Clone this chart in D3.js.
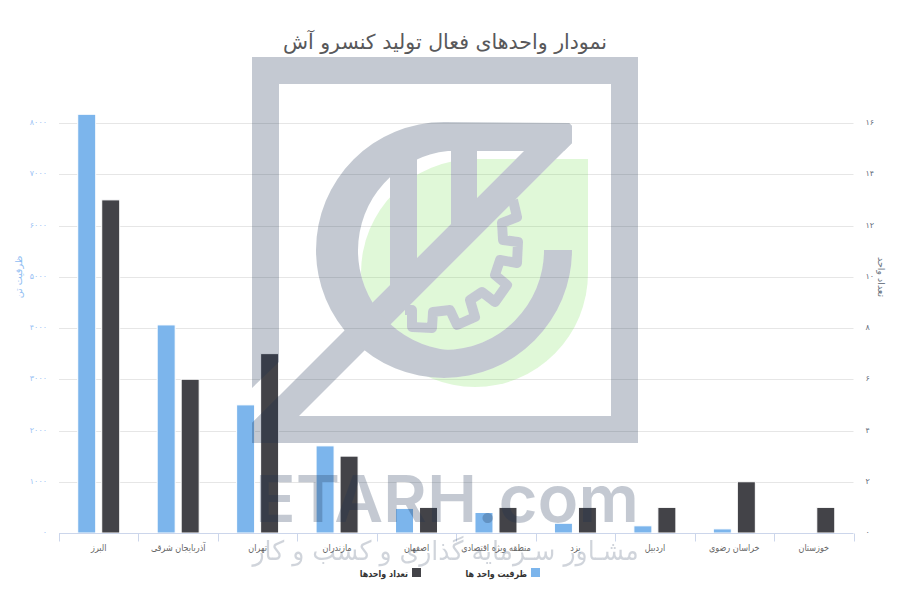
<!DOCTYPE html>
<html lang="fa">
<head>
<meta charset="utf-8">
<script src="https://cdn.jsdelivr.net/npm/d3@7/dist/d3.min.js"></script>
<style>
html,body{margin:0;padding:0;background:#fff}
svg{display:block}
text{font-family:"DejaVu Sans","Noto Sans",sans-serif}
</style>
</head>
<body>
<svg id="c" width="900" height="600" viewBox="0 0 900 600"></svg>
<script>
const titleText = "نمودار واحدهای فعال تولید کنسرو آش";
const categories = ["البرز","آذربایجان شرقی","تهران","مازندران","اصفهان","منطقه ویژه اقتصادی","یزد","اردبیل","خراسان رضوی","خوزستان"];
const capacity = [8170,4060,2500,1700,480,400,190,140,80,0];
const units = [13,6,7,3,1,1,1,1,2,1];
const capacityName = "ظرفیت واحد ها";
const unitsName = "تعداد واحدها";
const leftTitle = "ظرفیت تن";
const rightTitle = "تعداد واحد";
const leftTicks = [0,1000,2000,3000,4000,5000,6000,7000,8000];
const rightTicks = [0,2,4,6,8,10,12,14,16];
const brandText = "ETARH.com";
const sloganText = "مشـاور سـرمایه گذاری و کسب و کار";

const fa = n => String(n).replace(/\d/g, d => "۰۱۲۳۴۵۶۷۸۹"[d]);
const svg = d3.select("#c");
const L = 59, R = 853.5, T = 123, B = 533;

const x = d3.scaleBand().domain(categories).range([L, R]);
const pairW = 48, pad = (x.bandwidth() - pairW) / 2;
const x1 = d3.scaleBand().domain(["capacity","units"]).range([pad, pad + pairW]).paddingInner(0.25).paddingOuter(0.125);
const yL = d3.scaleLinear().domain([0, 8000]).range([B, T]);
const yR = d3.scaleLinear().domain([0, 16]).range([B, T]);

// grid
svg.append("g").selectAll("line").data(leftTicks.slice(1)).join("line")
  .attr("x1", L).attr("x2", R)
  .attr("y1", d => Math.round(yL(d)) + 0.5).attr("y2", d => Math.round(yL(d)) + 0.5)
  .attr("stroke", "#e6e6e6");

// bars
function bars(vals, key, fill, y) {
  svg.append("g").selectAll("rect").data(vals.map((v, i) => ({v, c: categories[i]}))).join("rect")
    .attr("x", d => x(d.c) + x1(key))
    .attr("width", x1.bandwidth())
    .attr("y", d => y(d.v))
    .attr("height", d => B - y(d.v))
    .attr("fill", fill).attr("stroke", "#fff").attr("stroke-width", 1);
}
bars(capacity, "capacity", "#7cb5ec", yL);
bars(units, "units", "#434348", yR);

// x axis
const gx = svg.append("g").attr("transform", `translate(0,${B + 0.5})`);
gx.append("line").attr("x1", L).attr("x2", R).attr("stroke", "#ccd6eb");
const edges = categories.map(c => x(c)).concat([R]);
gx.selectAll("line.t").data(edges).join("line").attr("class", "t")
  .attr("x1", d => Math.round(d) + 0.5).attr("x2", d => Math.round(d) + 0.5)
  .attr("y1", 0).attr("y2", 8).attr("stroke", "#ccd6eb");
gx.selectAll("text").data(categories).join("text")
  .attr("transform", d => `translate(${x(d) + x.bandwidth() / 2},17) scale(0.85,1)`)
  .attr("text-anchor", "middle").attr("font-size", 9.5).attr("fill", "#666").text(d => d);

// y axes
const axL = d3.axisLeft(yL).tickValues(leftTicks).tickFormat(fa).tickSize(0).tickPadding(12);
const gL = svg.append("g").attr("transform", `translate(${L},-1)`).call(axL);
gL.select(".domain").remove();
gL.selectAll("text").attr("font-size", 8).attr("fill", "#9cc3f5").style("font-family", '"DejaVu Sans"');
const axR = d3.axisRight(yR).tickValues(rightTicks).tickFormat(fa).tickSize(0).tickPadding(12);
const gR = svg.append("g").attr("transform", `translate(${R},-1)`).call(axR);
gR.select(".domain").remove();
gR.selectAll("text").attr("font-size", 8).attr("fill", "#5f6b7a").style("font-family", '"DejaVu Sans"');

svg.append("text").attr("transform", "translate(22,277) rotate(-90)")
  .attr("text-anchor", "middle").attr("font-size", 9.5).attr("fill", "#8fbdf2").text(leftTitle);
svg.append("text").attr("transform", "translate(878,277) rotate(90)")
  .attr("text-anchor", "middle").attr("font-size", 9.5).attr("fill", "#6d7683").text(rightTitle);

// title
svg.append("text").attr("x", 445).attr("y", 49).attr("text-anchor", "middle")
  .attr("font-size", 20.5).attr("fill", "#58585a").text(titleText);

// legend
const legend = [{n: capacityName, c: "#7cb5ec", x: 531}, {n: unitsName, c: "#434348", x: 412}];
const lg = svg.append("g").selectAll("g").data(legend).join("g");
lg.append("rect").attr("x", d => d.x).attr("y", 568).attr("width", 9).attr("height", 9).attr("fill", d => d.c);
lg.append("text").attr("transform", d => `translate(${d.x - 4},577) scale(0.84,1)`).attr("text-anchor", "end")
  .attr("font-size", 9.5).attr("font-weight", "bold").attr("fill", "#333").text(d => d.n);

// watermark: logo overlay
const defs = svg.append("defs");
const logoShapes = g => {
  g.append("path").attr("fill-rule", "evenodd")
    .attr("d", "M252,57H638V443H252V423L279,396V416H611V84H279V362L252,388Z");
  g.append("path").attr("d", "M252,423L552,123H569L572,126V143L279,436H252Z");
  g.append("path").attr("d", "M572,250A128,128 0 1 1 444,122L569,123L572,126V143L564,151H448A100,100 0 0 0 448,350H444A100,100 0 0 0 544,250Z");
  g.append("path").attr("d", "M390,140H417V270L390,297Z");
  g.append("path").attr("d", "M451,125H477V210L451,236Z");
  g.append("path").attr("fill", "none").attr("stroke-width", 10).attr("stroke-linejoin", "round")
    .attr("d", "M513,200L517,217L502,223L503,240L518,242L517,263L500,260L495,275L507,285L495,302L482,292L470,300L475,317L457,325L450,310L433,312L432,328L412,327L412,310L405,310");
};
const mask = defs.append("mask").attr("id", "m").attr("maskUnits", "userSpaceOnUse")
  .attr("x", 0).attr("y", 0).attr("width", 900).attr("height", 600);
mask.append("rect").attr("width", 900).attr("height", 600).attr("fill", "#fff");
const mg = mask.append("g").attr("fill", "#000");
logoShapes(mg);
mg.select("path:last-child").attr("stroke", "#000");

svg.append("path").attr("mask", "url(#m)")
  .attr("d", "M475,159H588V273A113,114 0 0 1 475,387A114,114 0 0 1 361,273A114,114 0 0 1 475,159Z")
  .attr("fill", "rgb(100,220,60)").attr("fill-opacity", 0.2);

const wm = svg.append("g").attr("fill", "rgb(24,46,78)").attr("opacity", 0.25);
logoShapes(wm);
wm.select("path:last-child").attr("stroke", "rgb(24,46,78)");

svg.append("text").attr("x", 255).attr("y", 522).attr("textLength", 384).attr("lengthAdjust", "spacingAndGlyphs")
  .attr("font-size", 65).attr("font-weight", 600).style("font-family", "Inter")
  .attr("fill", "rgb(24,46,78)").attr("opacity", 0.25).text(brandText);
svg.append("text").attr("transform", "translate(445.5,560) scale(0.932,1)").attr("text-anchor", "middle")
  .attr("font-size", 27).attr("fill", "rgb(24,46,78)").attr("opacity", 0.2).text(sloganText);
</script>
</body>
</html>
